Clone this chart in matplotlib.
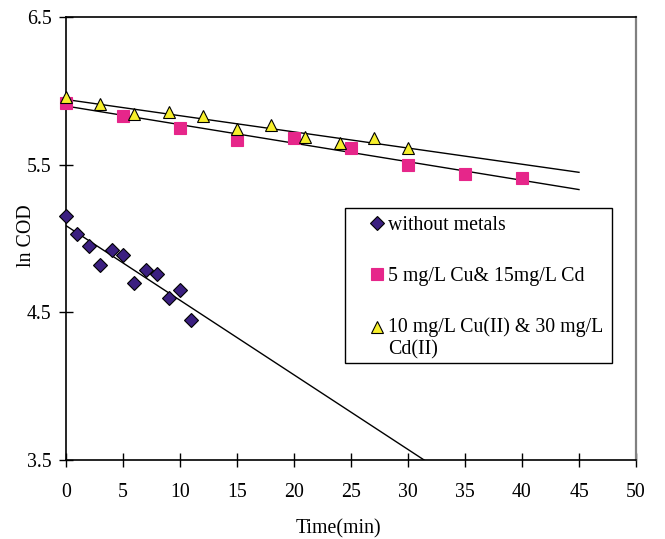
import numpy as np
import matplotlib
matplotlib.use("Agg")
import matplotlib.pyplot as plt
from matplotlib.legend_handler import HandlerLine2D
from matplotlib.patches import Rectangle
from matplotlib.transforms import Affine2D

plt.rcParams['font.family'] = ['Liberation Serif', 'DejaVu Serif']
FS = 14.3

# without metals
t_none = [0, 1, 2, 3, 4, 5, 6, 7, 8, 9, 10, 11]
cod_none = [5.15, 5.03, 4.95, 4.82, 4.92, 4.89, 4.70, 4.79, 4.76, 4.60, 4.65, 4.45]

# 5 mg/L Cu & 15 mg/L Cd
t_low = [0, 5, 10, 15, 20, 25, 30, 35, 40]
cod_low = [5.92, 5.83, 5.75, 5.67, 5.68, 5.61, 5.50, 5.44, 5.41]

# 10 mg/L Cu(II) & 30 mg/L Cd(II)
t_high = [0, 3, 6, 9, 12, 15, 18, 21, 24, 27, 30]
cod_high = [5.96, 5.91, 5.84, 5.86, 5.83, 5.74, 5.77, 5.69, 5.65, 5.68, 5.615]


class ShiftedHandler(HandlerLine2D):
    # put the marker next to the first line of a two-line label
    def __init__(self, dy, **kw):
        super().__init__(**kw)
        self.dy = dy

    def create_artists(self, legend, orig_handle, xdescent, ydescent,
                       width, height, fontsize, trans):
        arts = super().create_artists(legend, orig_handle, xdescent, ydescent,
                                      width, height, fontsize, trans)
        for a in arts:
            a.set_transform(Affine2D().translate(0, self.dy) + trans)
        return arts


fig = plt.figure(figsize=(6.65, 5.39), dpi=100)
ax = fig.add_axes([66/665, 1-460/539, 570/665, 443/539])

series = [
    (t_none, cod_none, 'D', '#3b1f80', 6.8, 'without metals'),
    (t_low, cod_low, 's', '#e6268a', 9.2, '5 mg/L Cu& 15mg/L Cd'),
    (t_high, cod_high, '^', '#f7ef2c', 9.2, '10 mg/L Cu(II) & 30 mg/L\nCd(II)'),
]

tt = np.linspace(0, 45, 200)
handles = []
for t, y, m, c, ms, lab in series:
    ec = 'black' if m != 's' else c
    h, = ax.plot(t, y, m, color=c, markeredgecolor=ec, markeredgewidth=0.8,
                 markersize=ms, label=lab, zorder=3, clip_on=False)
    handles.append(h)
    k, b = np.polyfit(t, y, 1)
    ax.plot(tt, k*tt + b, color='black', lw=1, zorder=2)

ax.set_xlim(0, 50)
ax.set_ylim(3.5, 6.5)
ax.set_xticks(range(0, 51, 5))
ax.set_yticks([3.5, 4.5, 5.5, 6.5])
ax.tick_params(direction='inout', length=9.4, width=1, labelsize=FS)
ax.tick_params(axis='y', pad=5.8)
ax.tick_params(axis='x', pad=12)
for s in ['left', 'bottom', 'top']:
    ax.spines[s].set_linewidth(1.2)
ax.spines['right'].set_color('#808080')
ax.spines['right'].set_linewidth(1.6)

ax.set_xlabel('Time(min)', fontsize=FS)
ax.set_ylabel('ln COD', fontsize=FS)
ax.xaxis.set_label_coords(0.478, -0.133)
ax.yaxis.set_label_coords(-0.052, 0.506)

# legend box
ax.add_patch(Rectangle((0.489, 0.219), 0.469, 0.35, transform=ax.transAxes,
                       facecolor='white', edgecolor='black', lw=1, zorder=4))
leg = ax.legend(handles=handles, loc='upper left', bbox_to_anchor=(0.533, 0.551),
                numpoints=1, fontsize=FS, frameon=False,
                handlelength=0.7, handletextpad=0.2, labelspacing=1.6,
                borderpad=0, borderaxespad=0,
                handler_map={handles[2]: ShiftedHandler(0.6*FS)})
leg.set_zorder(5)

fig.savefig('out.png', dpi=100)
